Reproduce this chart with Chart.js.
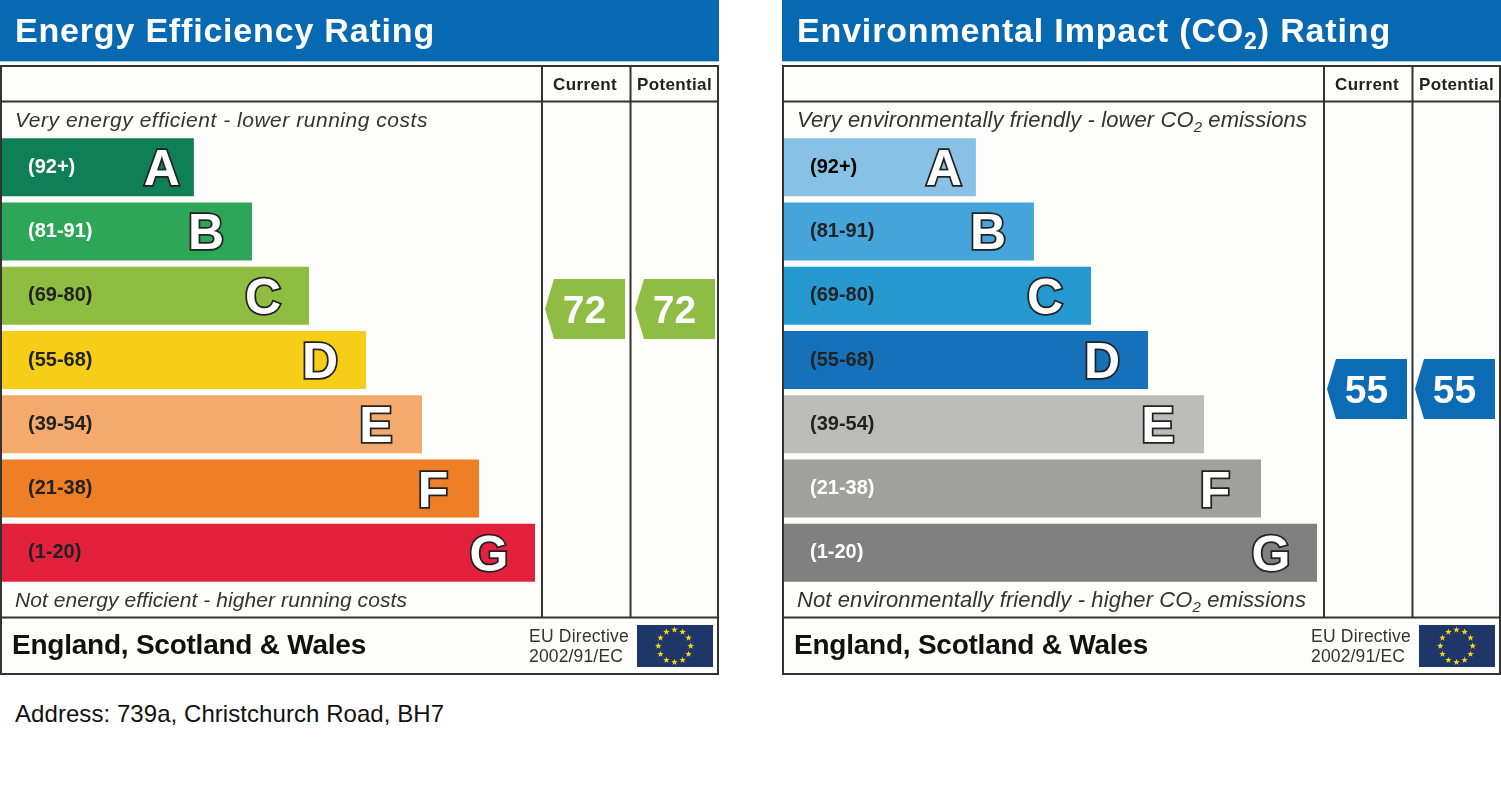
<!DOCTYPE html>
<html>
<head>
<meta charset="utf-8">
<title>Energy Performance Certificate</title>
<script src="https://cdn.jsdelivr.net/npm/chart.js@4"></script>
<style>
  html, body { margin: 0; background: #fff; }
  canvas { position: absolute; top: 0; }
  #energy { left: 0; }
  #co2 { left: 782px; }
  #address { position: absolute; left: 15px; top: 700px; font: 24px "Liberation Sans", Arial, sans-serif; letter-spacing: 0.06px; color: #111; white-space: nowrap; }
</style>
</head>
<body>
<canvas id="energy" width="719" height="675"></canvas>
<canvas id="co2" width="719" height="675"></canvas>
<div id="address">Address: 739a, Christchurch Road, BH7</div>
<script>
// bands, shared by both panels (length = % of the longest bar)
const bandLetters = ["A", "B", "C", "D", "E", "F", "G"];
const bandRanges = ["(92+)", "(81-91)", "(69-80)", "(55-68)", "(39-54)", "(21-38)", "(1-20)"];
const bandLengths = [36, 46.9, 57.6, 68.3, 78.8, 89.5, 100];

const energyColors = ["#0f7f57", "#2ea658", "#8fbd42", "#f6ce17", "#f3aa6c", "#ee7f26", "#e3213c"];
const energyRangeColors = ["#fff", "#fff", "#222", "#222", "#222", "#222", "#222"];
const energyRatings = [72, 72];

const co2Colors = ["#87c1e6", "#45a5da", "#2799d1", "#1572ba", "#bcbcb9", "#a0a09f", "#808080"];
const co2RangeColors = ["#000", "#222", "#222", "#222", "#222", "#fff", "#fff"];
const co2Ratings = [55, 55];

const columnLabels = ["Current", "Potential"];
const footerTitle = "England, Scotland & Wales";
const directiveLines = ["EU Directive", "2002/91/EC"];

const FONT = '"Liberation Sans", Arial, sans-serif';
const DARK = "#333";

// draws text squeezed or spread to a measured width, "₂" goes out as a subscript
function fitText(ctx, text, x, y, width, size, style) {
  const big = `${style} ${size}px ${FONT}`;
  const small = `${style} ${Math.round(size * 0.68)}px ${FONT}`;
  const parts = text.split("₂");
  ctx.letterSpacing = "0px";
  ctx.font = big;
  let natural = parts.reduce((sum, p) => sum + ctx.measureText(p).width, 0);
  ctx.font = small;
  natural += (parts.length - 1) * ctx.measureText("2").width;
  const count = parts.join("").length + parts.length - 1;
  const gap = (width - natural) / count;
  ctx.letterSpacing = gap + "px";
  ctx.textAlign = "left";
  let cx = x;
  parts.forEach((p, i) => {
    ctx.font = big;
    ctx.fillText(p, cx, y);
    cx += ctx.measureText(p).width;
    if (i < parts.length - 1) {
      ctx.font = small;
      ctx.fillText("2", cx, y + size * 0.22);
      cx += ctx.measureText("2").width;
    }
  });
  ctx.letterSpacing = "0px";
}

function drawFlag(ctx) {
  ctx.fillStyle = "#1f3669";
  ctx.fillRect(637, 625, 76, 42);
  ctx.fillStyle = "#f7d417";
  for (let i = 0; i < 12; i++) {
    const a = (i * Math.PI) / 6;
    const cx = 674.5 + 16.2 * Math.sin(a);
    const cy = 646 - 16.2 * Math.cos(a);
    ctx.beginPath();
    for (let k = 0; k < 10; k++) {
      const r = k % 2 ? 1.4 : 3.4;
      const b = (k * Math.PI) / 5;
      ctx.lineTo(cx + r * Math.sin(b), cy - r * Math.cos(b));
    }
    ctx.closePath();
    ctx.fill();
  }
}

function drawBadge(ctx, x, y, rating, color) {
  ctx.fillStyle = color;
  ctx.beginPath();
  ctx.moveTo(x - 40, y);
  ctx.lineTo(x - 31, y - 30);
  ctx.lineTo(x + 40, y - 30);
  ctx.lineTo(x + 40, y + 30);
  ctx.lineTo(x - 31, y + 30);
  ctx.closePath();
  ctx.fill();
  ctx.fillStyle = "#fff";
  ctx.font = `bold 39px ${FONT}`;
  ctx.textAlign = "center";
  ctx.textBaseline = "alphabetic";
  ctx.fillText(String(rating), x - 0.5, y + 14);
}

const panelPlugin = {
  id: "panel",
  beforeDraw(chart, args, opts) {
    const ctx = chart.ctx;
    ctx.save();
    ctx.fillStyle = "#fdfdfb";
    ctx.fillRect(0, 65, 719, 610);
    ctx.fillStyle = "#0869b3";
    ctx.fillRect(0, 0, 719, 61);
    ctx.fillStyle = "#a9cbe3";
    ctx.fillRect(0, 61, 719, 1);

    ctx.textBaseline = "alphabetic";
    ctx.fillStyle = "#fff";
    fitText(ctx, opts.title, 15, 42, opts.titleWidth, 34, "bold");

    ctx.fillStyle = DARK;
    fitText(ctx, opts.top, 15, 127, opts.topWidth, opts.captionSize, "italic");
    fitText(ctx, opts.bottom, 15, 607, opts.bottomWidth, opts.captionSize, "italic");

    ctx.fillStyle = "#222";
    fitText(ctx, columnLabels[0], 553, 90, 64, 17, "bold");
    fitText(ctx, columnLabels[1], 637, 90, 75, 17, "bold");

    ctx.fillStyle = "#111";
    fitText(ctx, footerTitle, 12, 654, 354, 28, "bold");
    ctx.fillStyle = DARK;
    fitText(ctx, directiveLines[0], 529, 642, 100, 17.5, "normal");
    fitText(ctx, directiveLines[1], 529, 662, 94, 17.5, "normal");
    drawFlag(ctx);
    ctx.restore();
  },
  afterDraw(chart, args, opts) {
    const ctx = chart.ctx;
    ctx.save();

    // frame and column rules
    ctx.strokeStyle = DARK;
    ctx.lineWidth = 2;
    ctx.beginPath();
    ctx.rect(1, 66, 717, 608);
    ctx.moveTo(1, 101.5);
    ctx.lineTo(718, 101.5);
    ctx.moveTo(1, 617.5);
    ctx.lineTo(718, 617.5);
    ctx.moveTo(542, 66);
    ctx.lineTo(542, 617);
    ctx.moveTo(630.5, 66);
    ctx.lineTo(630.5, 617);
    ctx.stroke();

    // outlined band letters, placed from the bar ends
    ctx.font = `bold 50px ${FONT}`;
    ctx.textAlign = "center";
    ctx.textBaseline = "alphabetic";
    ctx.lineJoin = "miter";
    ctx.miterLimit = 3;
    ctx.lineWidth = 3.5;
    chart.getDatasetMeta(0).data.forEach((bar, i) => {
      const x = bar.x - (i === 0 ? 32 : 46);
      const y = bar.y + 18;
      ctx.strokeStyle = "#222";
      ctx.strokeText(bandLetters[i], x, y);
      ctx.fillStyle = "#fff";
      ctx.fillText(bandLetters[i], x, y);
    });

    chart.getDatasetMeta(1).data.forEach((pt, i) => {
      drawBadge(ctx, pt.x, pt.y, chart.data.datasets[1].data[i].y, opts.badgeColor);
    });
    ctx.restore();
  },
};

// c: title/caption strings, colours and ratings of one panel
function makePanel(id, c) {
  // current badge sits at x=585 of the panel, the potential one c.pitch further right
  const colMin = (2 - 585) / c.pitch;
  const colMax = (535 - 585) / c.pitch;

  new Chart(document.getElementById(id), {
    type: "bar",
    plugins: [panelPlugin],
    data: {
      labels: bandRanges,
      datasets: [
        {
          data: bandLengths,
          backgroundColor: c.colors,
          grouped: false,
          barPercentage: 0.902,
          categoryPercentage: 1,
          xAxisID: "x",
          yAxisID: "y",
        },
        {
          type: "scatter",
          indexAxis: "x",
          data: c.ratings.map((r, i) => ({ x: i, y: r })),
          pointRadius: 0,
          xAxisID: "col",
          yAxisID: "rating",
        },
      ],
    },
    options: {
      indexAxis: "y",
      responsive: false,
      animation: false,
      layout: { padding: { left: 2, right: 184, top: 135, bottom: 90 } },
      scales: {
        x: { display: false, min: 0, max: 100 },
        y: {
          grid: { display: false, drawTicks: false },
          border: { display: false },
          afterFit: (scale) => { scale.width = 0; },
          ticks: {
            mirror: true,
            z: 1,
            padding: 26,
            font: { family: FONT, size: 20, weight: "bold" },
            color: (tick) => c.rangeColors[tick.index],
          },
        },
        col: { type: "linear", axis: "x", display: false, offset: false, min: colMin, max: colMax },
        // 72 lands on y=309 and 55 on y=389
        rating: { type: "linear", axis: "y", display: false, offset: false, min: 13.35, max: 108.975 },
      },
      plugins: {
        legend: { display: false },
        tooltip: { enabled: false },
        panel: {
          title: c.title,
          titleWidth: c.titleWidth,
          top: c.top,
          topWidth: c.topWidth,
          bottom: c.bottom,
          bottomWidth: c.bottomWidth,
          captionSize: c.captionSize,
          badgeColor: c.badgeColor,
        },
      },
    },
  });
}

makePanel("energy", {
  title: "Energy Efficiency Rating",
  titleWidth: 420,
  top: "Very energy efficient - lower running costs",
  topWidth: 413,
  bottom: "Not energy efficient - higher running costs",
  bottomWidth: 392,
  captionSize: 21,
  colors: energyColors,
  rangeColors: energyRangeColors,
  ratings: energyRatings,
  badgeColor: "#8fbc43",
  pitch: 90,
});

makePanel("co2", {
  title: "Environmental Impact (CO₂) Rating",
  titleWidth: 594,
  top: "Very environmentally friendly - lower CO₂ emissions",
  topWidth: 510,
  bottom: "Not environmentally friendly - higher CO₂ emissions",
  bottomWidth: 509,
  captionSize: 22,
  colors: co2Colors,
  rangeColors: co2RangeColors,
  ratings: co2Ratings,
  badgeColor: "#0b6cb5",
  pitch: 88,
});
</script>
</body>
</html>
